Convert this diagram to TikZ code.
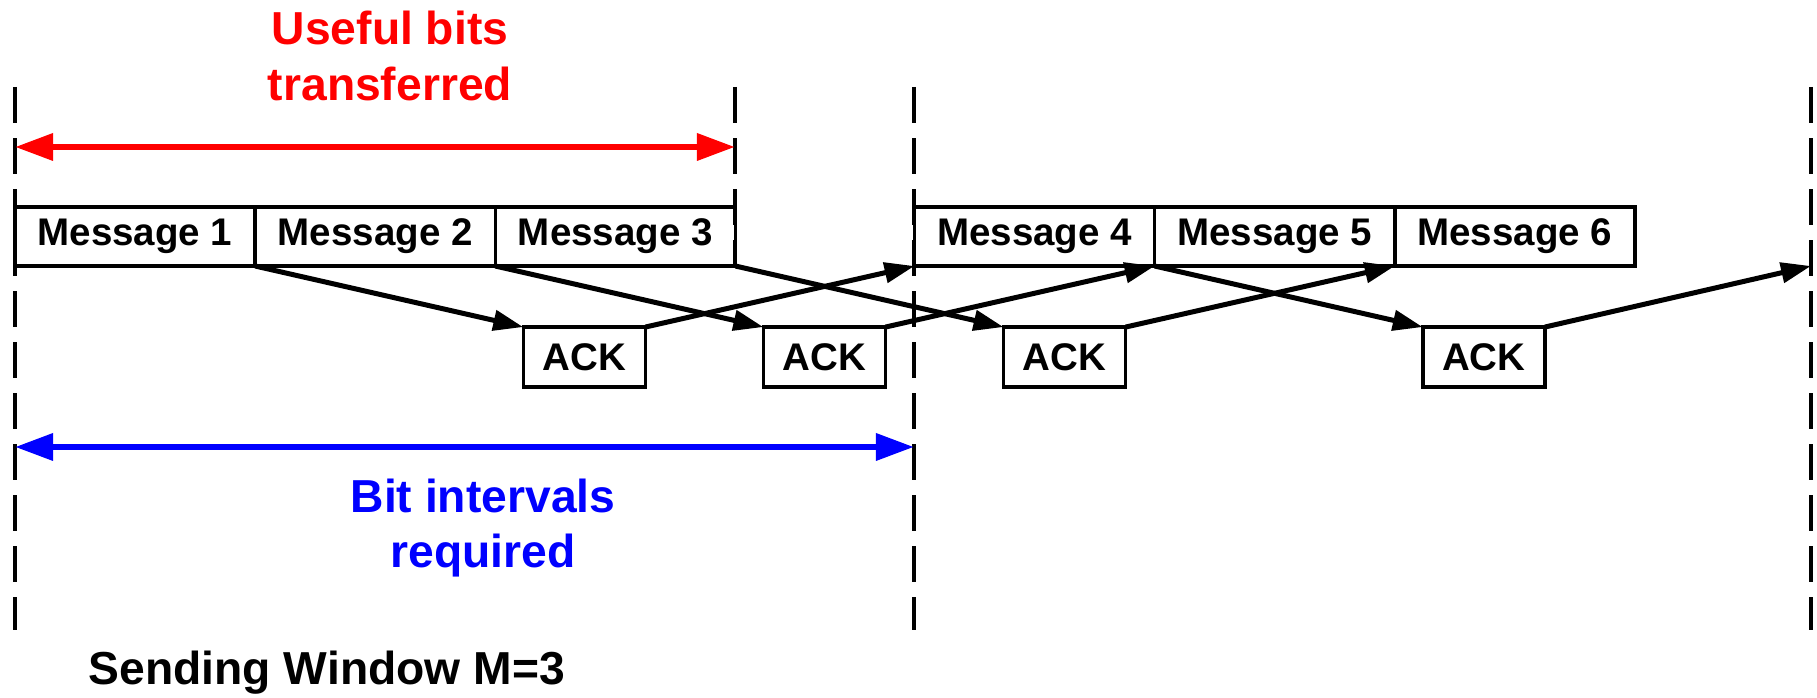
\documentclass[tikz,border=0pt]{standalone}
\usepackage{fontspec}
\setmainfont{Liberation Sans}
\usetikzlibrary{positioning,arrows.meta}

\begin{document}
\begin{tikzpicture}[x=0.01cm,y=-0.01cm,-,auto,node distance=0pt,
                    msg node/.style={rectangle,draw,line width=0.035cm,minimum width=2.4cm,minimum height=0.59cm,inner sep=0pt,outer sep=0pt,font=\fontsize{10.95}{13}\selectfont\bfseries},
                    ack node/.style={msg node,minimum width=1.22cm,minimum height=0.6cm},
                    window line/.style={dash pattern=on 0.36cm off 0.15cm,line width=0.04cm},
                    ack arrow/.style={line width=0.05cm,-{Triangle[length=0.3cm,width=0.2cm]}},
                    span arrow/.style={line width=0.065cm,{Triangle[length=0.38cm,width=0.26cm]}-{Triangle[length=0.38cm,width=0.26cm]}},
                    big label/.style={align=center,inner sep=0pt,font=\fontsize{13.15}{15.65}\selectfont\bfseries}]

  \useasboundingbox (0,0) rectangle (1817,698);

  % window borders
  \draw[window line] (15,87) -- (15,630);
  \draw[window line] (735,87) -- (735,266);
  \draw[window line] (914,87) -- (914,630);
  \draw[window line] (1811,87) -- (1811,630);

  \node[msg node, anchor=north west] (m1) at (15,207) {Message 1};
  \node[msg node] (m2) [right=0pt of m1] {Message 2};
  \node[msg node] (m3) [right=0pt of m2] {Message 3};
  \node[msg node] (m4) [right=1.79cm of m3] {Message 4};
  \node[msg node] (m5) [right=0pt of m4] {Message 5};
  \node[msg node] (m6) [right=0pt of m5] {Message 6};

  \node[ack node, anchor=north west] (a1) [below right=0.61cm and 2.68cm of m1.south east] {ACK};
  \node[ack node, anchor=north west] (a2) [below right=0.61cm and 2.68cm of m2.south east] {ACK};
  \node[ack node, anchor=north west] (a3) [below right=0.61cm and 2.68cm of m3.south east] {ACK};
  \node[ack node, anchor=north west] (a4) [below right=0.61cm and 2.68cm of m4.south east] {ACK};

  \coordinate (next) at (1811,266);

  \draw[ack arrow] (m1.south east) -- (a1.north west);
  \draw[ack arrow] (m2.south east) -- (a2.north west);
  \draw[ack arrow] (m3.south east) -- (a3.north west);
  \draw[ack arrow] (m4.south east) -- (a4.north west);

  \draw[ack arrow] (a1.north east) -- (m4.south west);
  \draw[ack arrow] (a2.north east) -- (m4.south east);
  \draw[ack arrow] (a3.north east) -- (m5.south east);
  \draw[ack arrow] (a4.north east) -- (next);

  % spans
  \coordinate (useful left) at (15,147);
  \coordinate (useful right) at (735,147);
  \coordinate (bits left) at (15,447);
  \coordinate (bits right) at (914,447);
  \draw[span arrow, red] (useful left) -- (useful right);
  \draw[span arrow, blue] (bits left) -- (bits right);

  \node[big label, red] (useful) at (390,56) {Useful bits\\transferred};
  \node[big label, blue] (bits) at (483,528) {Bit intervals\\required};
  \node[big label, anchor=base west] (window) at (88,685) {Sending Window M=3};

\end{tikzpicture}
\end{document}
